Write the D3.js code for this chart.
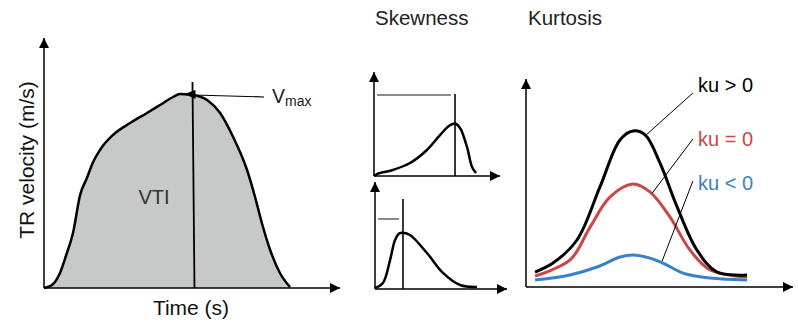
<!DOCTYPE html>
<html>
<head>
<meta charset="utf-8">
<script src="https://cdn.jsdelivr.net/npm/d3@7/dist/d3.min.js"></script>
<style>
  html, body { margin: 0; padding: 0; background: #fff; }
  svg { display: block; font-family: "Liberation Sans", Arial, sans-serif; }
</style>
</head>
<body>
<svg id="chart" width="798" height="324"></svg>
<script>
// TR velocity envelope (time %, velocity %)
const trTime     = [0, 2.7, 5.4, 7.4, 9.8, 12.2, 14.5, 16.6, 18.9, 23.3, 29.1, 34.8, 39.2, 43.6, 45.9, 48.3, 50.3, 55.1, 59.5, 63.9, 68.6, 71.3, 73.6, 76.4, 79.7, 83.1];
const trVelocity = [0, 1.2, 6, 12.8, 22, 37.2, 44, 50.4, 55.2, 61.2, 66, 70, 73.2, 76.4, 77.6, 77.4, 77.2, 75.2, 70, 60.4, 47.2, 36.4, 26, 15.2, 6, 0.4];
const vmaxTime = 50.5;
const vmaxValue = 77.2;

// Skewness: negatively skewed (top) and positively skewed (bottom) profiles
const skewNegX = [0, 2.4, 15, 28.6, 42, 52.4, 60, 64.3, 68.3, 73.8, 77.8, 81];
const skewNegY = [0, 1.9, 5.8, 12.5, 25, 39.4, 48.5, 50.5, 46.2, 27.9, 8.7, 2.9];
const skewNegPeak = 64.3;
const skewPosX = [0, 6, 11.4, 15.2, 18.5, 21.2, 26.5, 39.4, 51.5, 64.4, 77.3];
const skewPosY = [0.9, 5.6, 27, 45.8, 52, 52.6, 50.5, 33.6, 15, 3.7, 1.9];
const skewPosPeak = 21.2;

// Kurtosis: three symmetric profiles
const kurtX     = [3.4, 10.1, 19.1, 27.7, 35.2, 40.1, 44.6, 50.2, 56.6, 64, 71.5, 82.8];
const kurtHigh  = [7.2, 11.5, 22.6, 48.1, 70.7, 75, 73.1, 59.6, 38.5, 17.8, 7.2, 5.8];
const kurtX2    = [3.4, 16.5, 24, 31.5, 40.1, 46.4, 53.9, 61.4, 68.9, 82.8];
const kurtNorm  = [5.3, 13, 28.8, 43.3, 49.5, 45.7, 33.7, 17.8, 8.2, 4.8];
const kurtX3    = [3.4, 16.5, 26.6, 35.2, 40.1, 46.4, 51.3, 58.8, 68.9, 82.8];
const kurtLow   = [3.4, 5.8, 9.6, 14.4, 15.4, 13.9, 11.5, 6.7, 4.3, 3.4];
const kurtLabels = ["ku > 0", "ku = 0", "ku < 0"];
const kurtColors = ["#000000", "#cc4646", "#3a80c8"];

const titles = ["Skewness", "Kurtosis"];
const axisTitles = ["Time (s)", "TR velocity (m/s)"];

const svg = d3.select("#chart");
const defs = svg.append("defs");
defs.append("marker")
  .attr("id", "arrow")
  .attr("viewBox", "0 0 10 10")
  .attr("refX", 10).attr("refY", 5)
  .attr("markerUnits", "userSpaceOnUse")
  .attr("markerWidth", 12).attr("markerHeight", 10)
  .attr("orient", "auto")
  .append("path").attr("d", "M0,0 L10,5 L0,10 Z").attr("fill", "#000");

const zip = (xs, ys) => xs.map((x, i) => [x, ys[i]]);

function axes(g, x, y) {
  const [x0, x1] = x.range();
  const [y0, y1] = y.range();
  g.append("line").attr("x1", x0).attr("y1", y0).attr("x2", x0).attr("y2", y1)
    .attr("stroke", "#000").attr("stroke-width", 1.5).attr("marker-end", "url(#arrow)");
  g.append("line").attr("x1", x0).attr("y1", y0).attr("x2", x1).attr("y2", y0)
    .attr("stroke", "#000").attr("stroke-width", 1.5).attr("marker-end", "url(#arrow)");
}

// ---- Panel 1: TR velocity envelope ----
{
  const x = d3.scaleLinear().domain([0, 100]).range([44, 340]);
  const y = d3.scaleLinear().domain([0, 100]).range([288, 38]);
  const g = svg.append("g");
  const pts = zip(trTime, trVelocity);
  g.append("path")
    .attr("d", d3.area().x(d => x(d[0])).y0(y(0)).y1(d => y(d[1])).curve(d3.curveMonotoneX)(pts))
    .attr("fill", "#c7c9c8");
  g.append("path")
    .attr("d", d3.line().x(d => x(d[0])).y(d => y(d[1])).curve(d3.curveMonotoneX)(pts))
    .attr("fill", "none").attr("stroke", "#000").attr("stroke-width", 2.5);
  // peak marker line
  g.append("line")
    .attr("x1", x(vmaxTime) - 1).attr("y1", y(82.4))
    .attr("x2", x(vmaxTime) + 1).attr("y2", y(0))
    .attr("stroke", "#000").attr("stroke-width", 1.8);
  // Vmax leader
  const px = x(vmaxTime), py = y(vmaxValue);
  g.append("line")
    .attr("x1", px).attr("y1", py)
    .attr("x2", 264).attr("y2", 97)
    .attr("stroke", "#000").attr("stroke-width", 1.2);
  g.append("path")
    .attr("d", `M${px - 9},${py - 1} L${px + 2},${py - 5} L${px + 2},${py + 4} Z`)
    .attr("fill", "#000");
  const vm = g.append("text").attr("x", 272).attr("y", 103).attr("fill", "#222");
  vm.append("tspan").attr("font-size", 19.5).text("V");
  vm.append("tspan").attr("font-size", 14).attr("dy", 3).text("max");
  axes(g, x, y);
  g.append("text").attr("x", 154).attr("y", 204).attr("text-anchor", "middle")
    .attr("font-size", 20).attr("fill", "#333").text("VTI");
  g.append("text").attr("x", 191).attr("y", 315).attr("text-anchor", "middle")
    .attr("font-size", 21).attr("fill", "#111").text(axisTitles[0]);
  g.append("text").attr("transform", "translate(34,160) rotate(-90)").attr("text-anchor", "middle")
    .attr("font-size", 21).attr("fill", "#111").text(axisTitles[1]);
}

// ---- Panel 2: skewness ----
svg.append("text").attr("x", 375).attr("y", 25).attr("font-size", 20.5).attr("fill", "#222").text(titles[0]);
{
  const x = d3.scaleLinear().domain([0, 100]).range([374, 500]);
  const y = d3.scaleLinear().domain([0, 100]).range([176, 72]);
  const g = svg.append("g");
  g.append("line").attr("x1", x(2.4)).attr("x2", x(61)).attr("y1", y(77.9)).attr("y2", y(77.9))
    .attr("stroke", "#8a8a8a").attr("stroke-width", 2);
  g.append("line").attr("x1", x(skewNegPeak)).attr("x2", x(skewNegPeak)).attr("y1", y(78.8)).attr("y2", y(0))
    .attr("stroke", "#222").attr("stroke-width", 1.8);
  g.append("path")
    .attr("d", d3.line().x(d => x(d[0])).y(d => y(d[1])).curve(d3.curveCatmullRom)(zip(skewNegX, skewNegY)))
    .attr("fill", "none").attr("stroke", "#000").attr("stroke-width", 2.5);
  axes(g, x, y);
}
{
  const x = d3.scaleLinear().domain([0, 100]).range([375, 507]);
  const y = d3.scaleLinear().domain([0, 100]).range([289, 182]);
  const g = svg.append("g");
  g.append("line").attr("x1", x(2.3)).attr("x2", x(18.2)).attr("y1", y(65.4)).attr("y2", y(65.4))
    .attr("stroke", "#8a8a8a").attr("stroke-width", 2);
  g.append("line").attr("x1", x(skewPosPeak)).attr("x2", x(skewPosPeak)).attr("y1", y(84.1)).attr("y2", y(0))
    .attr("stroke", "#222").attr("stroke-width", 1.8);
  g.append("path")
    .attr("d", d3.line().x(d => x(d[0])).y(d => y(d[1])).curve(d3.curveCatmullRom)(zip(skewPosX, skewPosY)))
    .attr("fill", "none").attr("stroke", "#000").attr("stroke-width", 2.5);
  axes(g, x, y);
}

// ---- Panel 3: kurtosis ----
svg.append("text").attr("x", 528).attr("y", 25).attr("font-size", 20.5).attr("fill", "#222").text(titles[1]);
{
  const x = d3.scaleLinear().domain([0, 100]).range([526, 793]);
  const y = d3.scaleLinear().domain([0, 100]).range([287, 79]);
  const g = svg.append("g");
  const series = [zip(kurtX, kurtHigh), zip(kurtX2, kurtNorm), zip(kurtX3, kurtLow)];
  // draw low first so the higher curves sit on top
  [2, 1, 0].forEach(i => {
    g.append("path")
      .attr("d", d3.line().x(d => x(d[0])).y(d => y(d[1])).curve(d3.curveCatmullRom)(series[i]))
      .attr("fill", "none").attr("stroke", kurtColors[i]).attr("stroke-width", 3);
  });
  // leader lines from curves to labels
  const leaders = [[[44.9, 73], [62.5, 93]], [[47.2, 45], [62.5, 139]], [[51, 12.5], [62.5, 181]]];
  leaders.forEach(([a, b]) => {
    g.append("line").attr("x1", x(a[0])).attr("y1", y(a[1])).attr("x2", x(b[0])).attr("y2", b[1])
      .attr("stroke", "#000").attr("stroke-width", 1);
  });
  const labelY = [92, 146, 190];
  kurtLabels.forEach((t, i) => {
    g.append("text").attr("x", 698).attr("y", labelY[i]).attr("font-size", 20)
      .attr("fill", kurtColors[i]).text(t);
  });
  axes(g, x, y);
}
</script>
</body>
</html>
